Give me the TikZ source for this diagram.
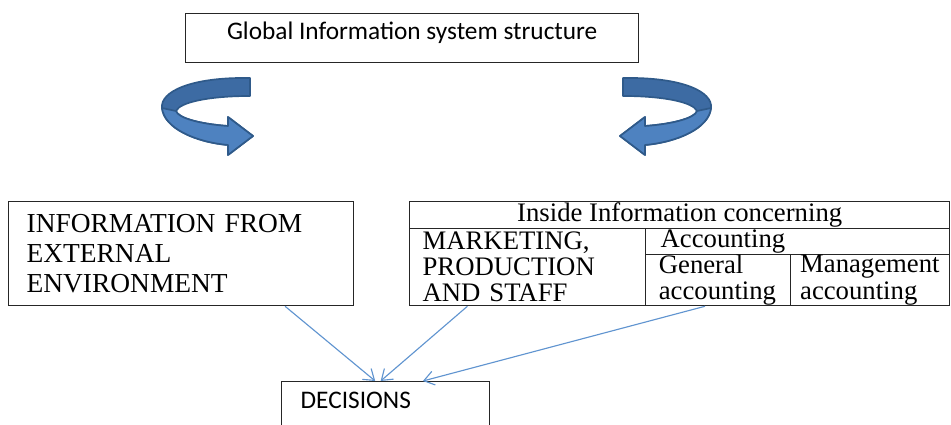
\documentclass[tikz,border=0pt]{standalone}
\usepackage{fontspec}
\setmainfont{Liberation Serif}
\newfontfamily\calibri{Carlito}
\usetikzlibrary{arrows.meta,calc}
\definecolor{ribbon}{HTML}{4E82C0}
\definecolor{ribbonback}{HTML}{3D6BA3}
\definecolor{ribbonedge}{HTML}{2F5A8A}
\definecolor{link}{HTML}{6094D0}
\tikzset{
	turn/.pic={
		\fill[ribbonback, draw=ribbonedge, line width=1.2pt, line join=round] (0,0) .. controls (-60,-1) and (-90,14) .. (-88,30) .. controls (-86,50) and (-55,64) .. (-22,67) -- (-22,77) -- (3,58) -- (-22,39) -- (-22,48) .. controls (-50,46) and (-72,40) .. (-74,33) .. controls (-70,24) and (-40,18) .. (0,18) -- cycle;
		\fill[ribbon, draw=ribbonedge, line width=1.2pt, line join=round] (-88,30) .. controls (-86,50) and (-55,64) .. (-22,67) -- (-22,77) -- (3,58) -- (-22,39) -- (-22,48) .. controls (-50,46) and (-72,40) .. (-74,33) -- cycle;
	}
}
\begin{document}
\begin{tikzpicture}[x=0.025cm, y=-0.025cm]
	\clip (0,0) rectangle (951,425);
	\fill[white] (0,0) rectangle (951,425);
	\begin{scope}[every node/.style={draw=black!85, line width=0.9pt, anchor=north west, inner ysep=0pt, font=\fontsize{19}{18.5}\selectfont}]
		\node[font=\calibri\fontsize{18}{21}\selectfont, minimum width=11.325cm, minimum height=1.225cm, text depth=0.38cm] (g) at (185,13) {Global Information system structure};
		\node[font=\fontsize{19.5}{21.3}\selectfont, text width=7.725cm, inner xsep=0.45cm, minimum height=2.6cm, align=left] (ext) at (8,201) {INFORMATION FROM\\EXTERNAL\\ENVIRONMENT};
		\node[minimum width=13.5cm, minimum height=0.675cm] (hdr) at (409,201) {Inside Information concerning};
		\node[text width=5.25cm, inner xsep=0.325cm, minimum height=1.925cm, align=left] (mps) at (409,228) {MARKETING,\\PRODUCTION\\AND STAFF};
		\node[text width=6.85cm, inner xsep=0.375cm, minimum height=0.65cm, align=left] (acc) at (645,228) {Accounting};
		\node[text width=2.965cm, inner xsep=0.33cm, minimum height=1.275cm, align=left] (gen) at (645,254) {General\\accounting};
		\node[text width=3.5cm, inner xsep=0.2375cm, minimum height=1.275cm, align=left] (mgt) at (790,254) {Management\\accounting};
		\node[font=\calibri\fontsize{18}{21}\selectfont, text width=4.25cm, inner xsep=0.475cm, inner ysep=0.25cm, text depth=1.5cm, align=left] (dec) at (281,381) {DECISIONS};
	\end{scope}
	\pic at (250,78) {turn};
	\pic[xscale=-1] at (623,78) {turn};
	\begin{scope}[every edge/.style={draw=link, line width=0.8pt, -{Straight Barb[length=2.5mm, width=3.5mm]}}]
		\path ($(ext.south west)!0.8!(ext.south east)$) edge ($(dec.north west)!0.45!(dec.north east)$);
		\path ($(mps.south west)!0.246!(mps.south east)$) edge ($(dec.north west)!0.476!(dec.north east)$);
		\path ($(gen.south west)!0.41!(gen.south east)$) edge ($(dec.north west)!0.678!(dec.north east)$);
	\end{scope}
\end{tikzpicture}
\end{document}
